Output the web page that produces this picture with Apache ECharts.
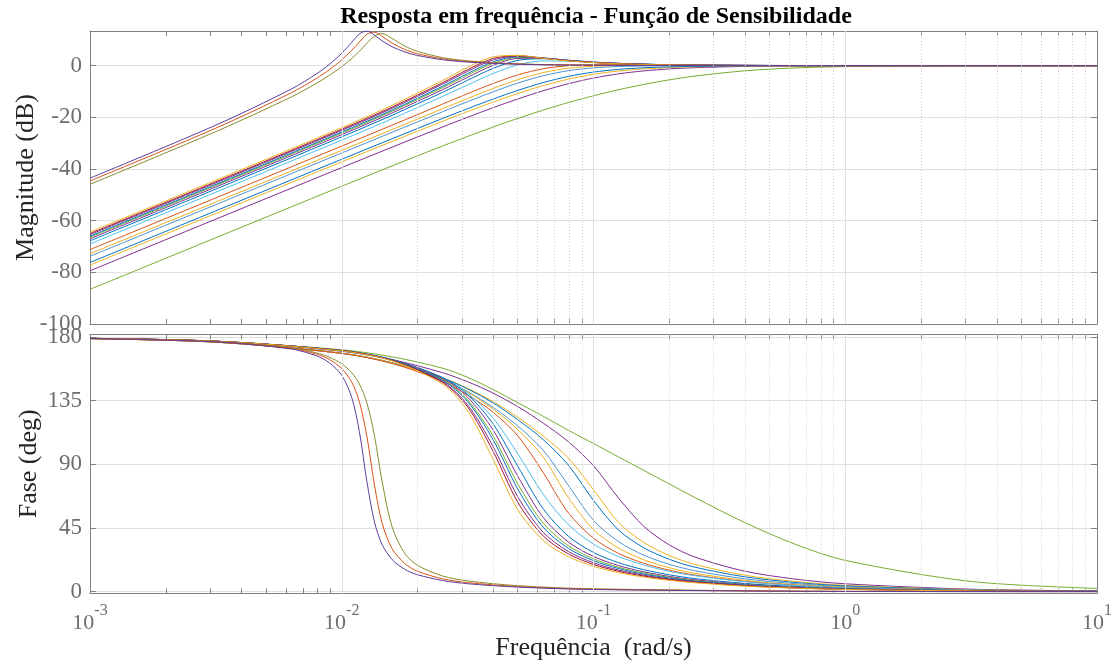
<!DOCTYPE html>
<html>
<head>
<meta charset="utf-8">
<script src="https://cdn.jsdelivr.net/npm/echarts@6/dist/echarts.min.js"></script>
<style>
html, body { margin: 0; padding: 0; background: #ffffff; }
#chart { width: 1119px; height: 665px; }
</style>
</head>
<body>
<div id="chart"></div>
<script>
// ---- frequency grids (rad/s) ----
const freqA = [0.001, 0.003162, 0.00631, 0.007943, 0.008913, 0.01, 0.010965, 0.011749, 0.012589, 0.01349,
               0.014454, 0.015849, 0.017783, 0.019953, 0.025119, 0.031623, 0.050119, 0.1, 1, 10];
const freqB = [0.001, 0.003162, 0.01, 0.01585, 0.02512, 0.03162, 0.03981, 0.05012, 0.0631, 0.07943,
               0.1, 0.1259, 0.1585, 0.1995, 0.2512, 0.3981, 0.631, 1, 3.162, 10];

// ---- lightly damped loops (resonant peak near 0.012-0.014 rad/s) ----
const magA1 = [-43.54, -23.02, -9.04, -3.15, 0.43, 4.78, 9.05, 12.26, 13.39, 11.77, 9.62, 7.31, 5.32, 3.96, 2.30, 1.38, 0.53, 0.13, 0, 0];
const phA1  = [179.0, 176.6, 171.5, 166.7, 161.9, 152.9, 137.1, 113.2, 77.7, 49.2, 33.4, 22.7, 15.8, 12.0, 7.9, 5.6, 3.2, 1.5, 0.15, 0.02];
const magA2 = [-44.64, -24.19, -10.49, -4.91, -1.63, 2.22, 5.94, 9.15, 12.13, 12.96, 11.36, 8.71, 6.27, 4.62, 2.65, 1.58, 0.60, 0.15, 0, 0];
const phA2  = [179.0, 176.7, 172.0, 167.9, 164.2, 157.7, 148.0, 134.3, 109.6, 75.4, 48.7, 30.3, 19.9, 14.5, 9.1, 6.4, 3.6, 1.7, 0.17, 0.02];
const magA3 = [-45.93, -25.53, -12.11, -6.82, -3.81, -0.38, 2.82, 5.58, 8.63, 11.46, 12.43, 10.50, 7.59, 5.54, 3.12, 1.85, 0.69, 0.17, 0, 0];
const phA3  = [179.0, 176.8, 172.4, 168.8, 165.8, 161.1, 154.7, 146.8, 133.4, 110.2, 78.3, 45.7, 27.1, 18.7, 11.1, 7.6, 4.2, 2.0, 0.19, 0.02];

// ---- better damped loops (crossover near 0.04-0.15 rad/s) ----
const magB1  = [-64.40, -44.36, -23.99, -15.35, -5.80, -0.64, 3.39, 3.95, 2.83, 1.82, 1.15, 0.72, 0.45, 0.28, 0.18, 0.07, 0.03, 0.01, 0, 0];
const phB1   = [179.07, 177.05, 170.2, 163.2, 146.7, 127.8, 94.0, 57.7, 36.2, 24.7, 17.9, 13.4, 10.3, 8.0, 6.3, 3.9, 2.45, 1.54, 0.49, 0.15];
const magB2  = [-65.00, -44.96, -24.62, -16.05, -6.64, -1.55, 2.73, 3.84, 2.90, 1.90, 1.20, 0.76, 0.48, 0.29, 0.19, 0.07, 0.03, 0.01, 0, 0];
const phB2   = [179.08, 177.06, 170.3, 163.4, 147.9, 130.6, 99.6, 63.0, 39.4, 26.7, 19.2, 14.4, 11.0, 8.56, 6.7, 4.2, 2.6, 1.64, 0.52, 0.16];
const magB3  = [-65.40, -45.37, -25.05, -16.51, -7.20, -2.19, 2.17, 3.66, 2.90, 1.93, 1.23, 0.78, 0.49, 0.30, 0.19, 0.08, 0.03, 0.01, 0, 0];
const phB3   = [179.07, 177.05, 170.3, 163.4, 148.4, 132.1, 103.0, 66.8, 42.0, 28.4, 20.4, 15.2, 11.6, 9.02, 7.1, 4.4, 2.75, 1.73, 0.55, 0.17];
const magB4  = [-66.00, -45.97, -25.68, -17.19, -8.00, -3.06, 1.43, 3.43, 2.94, 2.00, 1.28, 0.81, 0.51, 0.31, 0.20, 0.08, 0.03, 0.01, 0, 0];
const phB4   = [179.08, 177.07, 170.4, 163.7, 149.4, 134.4, 107.8, 72.2, 45.6, 30.6, 21.9, 16.3, 12.4, 9.63, 7.5, 4.7, 2.9, 1.84, 0.58, 0.18];
const magB5  = [-66.40, -46.37, -26.10, -17.64, -8.55, -3.68, 0.85, 3.15, 2.90, 2.02, 1.31, 0.83, 0.53, 0.32, 0.20, 0.08, 0.03, 0.01, 0, 0];
const phB5   = [179.07, 177.06, 170.35, 163.7, 149.8, 135.5, 110.5, 76.0, 48.5, 32.5, 23.2, 17.2, 13.1, 10.14, 7.9, 4.9, 3.1, 1.94, 0.61, 0.19];
const magB6  = [-67.00, -46.97, -26.72, -18.31, -9.32, -4.51, 0.06, 2.79, 2.87, 2.07, 1.36, 0.87, 0.55, 0.33, 0.21, 0.09, 0.04, 0.01, 0, 0];
const phB6   = [179.08, 177.08, 170.5, 164.0, 150.7, 137.5, 114.6, 81.4, 52.5, 35.1, 24.9, 18.4, 14.0, 10.81, 8.4, 5.2, 3.3, 2.06, 0.65, 0.21];
const magB7  = [-67.80, -47.78, -27.56, -19.20, -10.35, -5.67, -1.11, 2.03, 2.66, 2.06, 1.39, 0.90, 0.57, 0.35, 0.22, 0.09, 0.04, 0.02, 0, 0];
const phB7   = [179.08, 177.06, 170.45, 164.1, 151.4, 139.3, 118.9, 88.4, 58.6, 39.2, 27.7, 20.4, 15.5, 11.95, 9.3, 5.8, 3.6, 2.27, 0.72, 0.23];
const magB8  = [-69.00, -48.98, -28.82, -20.55, -11.94, -7.47, -3.11, 0.35, 1.81, 1.75, 1.28, 0.86, 0.56, 0.34, 0.22, 0.09, 0.04, 0.02, 0, 0];
const phB8   = [179.03, 176.9, 170.0, 163.6, 151.3, 140.3, 123.0, 97.3, 68.9, 47.4, 33.6, 24.8, 18.8, 14.45, 11.3, 7.0, 4.4, 2.74, 0.87, 0.27];
const magB9  = [-71.20, -51.19, -31.14, -23.05, -14.90, -10.85, -6.96, -3.58, -1.21, -0.04, 0.32, 0.34, 0.27, 0.19, 0.13, 0.05, 0.02, 0.01, 0, 0];
const phB9   = [178.86, 176.39, 168.43, 161.27, 148.81, 139.0, 127.0, 110.0, 84.29, 55.69, 37.81, 26.98, 20.02, 15.24, 11.79, 7.24, 4.52, 2.84, 0.90, 0.28];
const magB10 = [-72.80, -52.80, -32.77, -24.74, -16.70, -12.72, -8.88, -5.42, -2.70, -1.02, -0.23, 0.04, 0.10, 0.095, 0.07, 0.03, 0.01, 0.01, 0, 0];
const phB10  = [178.87, 176.43, 168.61, 161.69, 149.98, 141.09, 129.11, 114.5, 95.2, 66.5, 43.88, 30.71, 22.48, 16.96, 13.05, 7.97, 4.96, 3.11, 0.98, 0.31];
const magB11 = [-73.80, -53.80, -33.80, -25.80, -17.85, -13.94, -10.18, -6.74, -3.92, -1.96, -0.86, -0.35, -0.13, -0.04, -0.01, 0, 0, 0, 0, 0];
const phB11  = [178.85, 176.37, 168.46, 161.52, 150.02, 141.52, 130.34, 117.0, 100.0, 75.15, 50.36, 35.30, 25.77, 19.39, 14.89, 9.07, 5.64, 3.54, 1.12, 0.35];
const magB12 = [-76.20, -56.20, -36.24, -28.30, -20.47, -16.66, -12.98, -9.57, -6.57, -4.18, -2.50, -1.44, -0.83, -0.48, -0.28, -0.11, -0.04, -0.02, 0, 0];
const phB12  = [178.86, 176.39, 168.57, 161.82, 151.0, 143.31, 133.59, 121.48, 107.5, 89.5, 64.5, 43.47, 30.98, 22.93, 17.41, 10.49, 6.50, 4.07, 1.28, 0.41];
const magB13 = [-77.20, -57.21, -37.25, -29.34, -21.55, -17.78, -14.14, -10.75, -7.73, -5.24, -3.36, -2.08, -1.27, -0.77, -0.47, -0.18, -0.07, -0.03, 0, 0];
const phB13  = [178.86, 176.38, 168.55, 161.84, 151.21, 143.77, 134.49, 123.13, 110.0, 94.5, 72.0, 48.88, 34.77, 25.63, 19.40, 11.65, 7.20, 4.51, 1.42, 0.45];
const magB14 = [-79.40, -59.41, -39.46, -31.55, -23.77, -19.99, -16.33, -12.88, -9.73, -7.01, -4.81, -3.17, -2.04, -1.29, -0.81, -0.32, -0.13, -0.05, -0.01, 0];
const phB14  = [178.99, 176.81, 169.93, 164.06, 154.82, 148.41, 140.47, 130.77, 119.18, 106.0, 89.0, 66.0, 46.15, 33.19, 24.66, 14.50, 8.90, 5.55, 1.74, 0.55];
const magB15 = [-86.60, -66.61, -46.69, -38.81, -31.12, -27.40, -23.81, -20.40, -17.22, -14.29, -11.66, -9.32, -7.28, -5.53, -4.07, -2.02, -0.90, -0.38, -0.04, 0];
const phB15  = [179.1, 177.0, 171.0, 166.0, 158.0, 151.5, 143.0, 133.5, 124.0, 114.1, 104.7, 95.2, 85.7, 76.25, 66.8, 48.9, 33.6, 22.1, 7.2, 2.3];

// ---- axis ticks ----
const decadeTicks = [0.001, 0.01, 0.1, 1, 10];
const magTicks = [-100, -80, -60, -40, -20, 0];
const phaseTicks = [0, 45, 90, 135, 180];

// MATLAB default line colours
const C = {
  blue: '#0072BD', orange: '#D95319', yellow: '#EDB120', purple: '#7E2F8E',
  green: '#77AC30', lightblue: '#4DBEEE', darkred: '#A2142F', steel: '#4F93CF',
  violet: '#5E3C99', olive: '#8A8A2C'
};

// drawing order: first entry is drawn first (underneath)
const curves = [
  { freq: freqB, mag: magB15, ph: phB15, color: C.green },
  { freq: freqB, mag: magB14, ph: phB14, color: C.purple },
  { freq: freqB, mag: magB13, ph: phB13, color: C.yellow },
  { freq: freqB, mag: magB12, ph: phB12, color: C.blue },
  { freq: freqB, mag: magB11, ph: phB11, color: C.steel },
  { freq: freqB, mag: magB10, ph: phB10, color: C.yellow },
  { freq: freqB, mag: magB9,  ph: phB9,  color: C.orange },
  { freq: freqB, mag: magB8,  ph: phB8,  color: C.lightblue },
  { freq: freqB, mag: magB7,  ph: phB7,  color: C.blue },
  { freq: freqB, mag: magB6,  ph: phB6,  color: C.purple },
  { freq: freqB, mag: magB5,  ph: phB5,  color: C.green },
  { freq: freqB, mag: magB4,  ph: phB4,  color: C.blue },
  { freq: freqB, mag: magB3,  ph: phB3,  color: C.purple },
  { freq: freqB, mag: magB2,  ph: phB2,  color: C.darkred },
  { freq: freqB, mag: magB1,  ph: phB1,  color: C.yellow },
  { freq: freqA, mag: magA3,  ph: phA3,  color: C.olive },
  { freq: freqA, mag: magA2,  ph: phA2,  color: C.orange },
  { freq: freqA, mag: magA1,  ph: phA1,  color: C.violet }
];

// minor positions 2..9 inside each decade
const minorTicks = [];
decadeTicks.slice(0, -1).forEach(d => { for (let m = 2; m <= 9; m++) minorTicks.push(+(m * d).toPrecision(3)); });
const allXTicks = decadeTicks.concat(minorTicks);
const innerDecades = decadeTicks.slice(1, -1);

const FONT = '"Liberation Serif", "Times New Roman", serif';
const AXIS_GRAY = '#808080';
const LABEL_GRAY = '#6e6e6e';
const GRID_GRAY = '#e0e0e0';

const PLOT_LEFT = 90, PLOT_W = 1007;

function logX(gridIndex, position, extra) {
  return Object.assign({
    type: 'log', logBase: 10, gridIndex, position, min: 0.001, max: 10, splitNumber: 4,
    axisLine: { show: true, onZero: false, lineStyle: { color: AXIS_GRAY, width: 1 } },
    axisTick: { show: true, inside: true, length: 5, customValues: allXTicks, lineStyle: { color: AXIS_GRAY } },
    axisLabel: { show: false },
    splitLine: { show: false }
  }, extra || {});
}

// vertical grid: solid at decades, dotted at 2..9 x 10^k
function xGridSeries(xi, yi) {
  const minor = {
    type: 'line', xAxisIndex: xi, yAxisIndex: yi, data: [], silent: true, z: 1,
    markLine: {
      silent: true, symbol: ['none', 'none'], animation: false,
      label: { show: false }, emphasis: { disabled: true },
      lineStyle: { color: '#d2d2d2', type: [1, 2], width: 1 },
      data: minorTicks.map(v => ({ xAxis: v }))
    }
  };
  const major = {
    type: 'line', xAxisIndex: xi, yAxisIndex: yi, data: [], silent: true, z: 1,
    markLine: {
      silent: true, symbol: ['none', 'none'], animation: false,
      label: { show: false }, emphasis: { disabled: true },
      lineStyle: { color: GRID_GRAY, type: 'solid', width: 1 },
      data: innerDecades.map(v => ({ xAxis: v }))
    }
  };
  return [minor, major];
}

const series = [].concat(xGridSeries(0, 0), xGridSeries(2, 2));
curves.forEach(c => {
  const common = {
    type: 'line', showSymbol: false, symbol: 'none', smooth: 0.3, silent: true,
    animation: false, clip: true, z: 3,
    lineStyle: { width: 1, color: c.color }, itemStyle: { color: c.color }
  };
  series.push(Object.assign({}, common, { xAxisIndex: 0, yAxisIndex: 0, data: c.freq.map((f, i) => [f, c.mag[i]]) }));
  series.push(Object.assign({}, common, { xAxisIndex: 2, yAxisIndex: 2, data: c.freq.map((f, i) => [f, c.ph[i]]) }));
});

const chart = echarts.init(document.getElementById('chart'), null, { renderer: 'canvas' });
chart.setOption({
  animation: false,
  backgroundColor: '#ffffff',
  title: {
    text: 'Resposta em frequência - Função de Sensibilidade',
    left: 591, top: 0, textAlign: 'center',
    textStyle: { fontFamily: FONT, fontSize: 24, fontWeight: 'bold', color: '#000000' }
  },
  grid: [
    { left: PLOT_LEFT, top: 31, width: PLOT_W, height: 293, outerBoundsMode: 'none' },
    { left: PLOT_LEFT, top: 334.3, width: PLOT_W, height: 259, outerBoundsMode: 'none' },
    { left: PLOT_LEFT, top: 337.05, width: PLOT_W, height: 254.6, outerBoundsMode: 'none' }
  ],
  xAxis: [
    logX(0, 'bottom'),
    logX(0, 'top'),
    logX(1, 'bottom', {
      axisLabel: {
        show: true, margin: 9, customValues: decadeTicks,
        formatter: v => '{b|10}{e|' + Math.round(Math.log10(v)) + '}',
        rich: {
          b: { fontFamily: FONT, fontSize: 22, color: LABEL_GRAY, lineHeight: 32, verticalAlign: 'bottom' },
          e: { fontFamily: FONT, fontSize: 16, color: LABEL_GRAY, lineHeight: 21, verticalAlign: 'top' }
        }
      },
      name: 'Frequência  (rad/s)', nameLocation: 'middle', nameGap: 41,
      nameTextStyle: { fontFamily: FONT, fontSize: 26, color: '#262626' }
    }),
    logX(1, 'top'),
    { type: 'log', logBase: 10, gridIndex: 2, min: 0.001, max: 10, show: false }
  ],
  yAxis: [
    {
      type: 'value', gridIndex: 0, position: 'left', min: -100, max: 13.4, interval: 20,
      axisLine: { show: true, onZero: false, lineStyle: { color: AXIS_GRAY } },
      axisTick: { show: true, inside: true, length: 6, customValues: magTicks, lineStyle: { color: AXIS_GRAY } },
      axisLabel: { show: true, margin: 8, customValues: magTicks, fontFamily: FONT, fontSize: 23, color: LABEL_GRAY },
      splitLine: { show: true, lineStyle: { color: GRID_GRAY, width: 1 } },
      name: 'Magnitude (dB)', nameLocation: 'middle', nameGap: 51, nameMoveOverlap: false,
      nameTextStyle: { fontFamily: FONT, fontSize: 26, color: '#262626' }
    },
    {
      type: 'value', gridIndex: 0, position: 'right', min: -100, max: 13.4, interval: 20,
      axisLine: { show: true, onZero: false, lineStyle: { color: AXIS_GRAY } },
      axisTick: { show: true, inside: true, length: 6, customValues: magTicks, lineStyle: { color: AXIS_GRAY } },
      axisLabel: { show: false }, splitLine: { show: false }
    },
    {
      type: 'value', gridIndex: 1, position: 'left', min: -1.17, max: 181.94,
      axisLine: { show: true, onZero: false, lineStyle: { color: AXIS_GRAY } },
      axisTick: { show: false }, axisLabel: { show: false }, splitLine: { show: false },
      name: 'Fase (deg)', nameLocation: 'middle', nameGap: 48, nameMoveOverlap: false,
      nameTextStyle: { fontFamily: FONT, fontSize: 26, color: '#262626' }
    },
    {
      type: 'value', gridIndex: 1, position: 'right', min: -1.17, max: 181.94,
      axisLine: { show: true, onZero: false, lineStyle: { color: AXIS_GRAY } },
      axisTick: { show: false }, axisLabel: { show: false }, splitLine: { show: false }
    },
    {
      type: 'value', gridIndex: 2, position: 'left', min: 0, max: 180, interval: 45,
      axisLine: { show: false },
      axisTick: { show: true, inside: true, length: 6, customValues: phaseTicks, lineStyle: { color: AXIS_GRAY } },
      axisLabel: { show: true, margin: 8, customValues: phaseTicks, fontFamily: FONT, fontSize: 23, color: LABEL_GRAY },
      splitLine: { show: true, lineStyle: { color: GRID_GRAY, width: 1 } }
    },
    {
      type: 'value', gridIndex: 2, position: 'right', min: 0, max: 180, interval: 45,
      axisLine: { show: false },
      axisTick: { show: true, inside: true, length: 6, customValues: phaseTicks, lineStyle: { color: AXIS_GRAY } },
      axisLabel: { show: false }, splitLine: { show: false }
    }
  ],
  series
});
</script>
</body>
</html>
